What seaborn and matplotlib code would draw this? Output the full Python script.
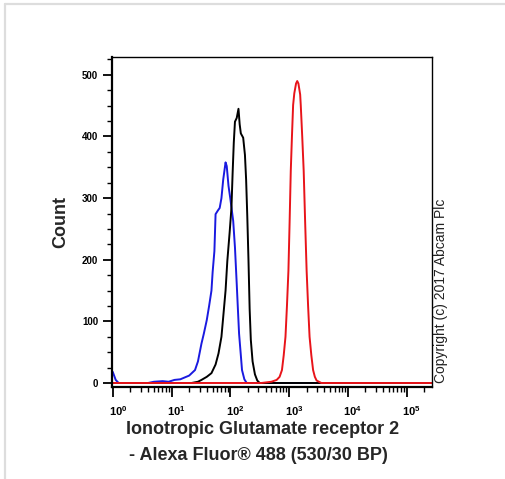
import numpy as np
import pandas as pd
import matplotlib
matplotlib.use("Agg")
import matplotlib.pyplot as plt
import matplotlib.ticker as ticker
import matplotlib.transforms as mtransforms
from matplotlib.lines import Line2D
import seaborn as sns

# histogram outlines: log10(intensity) and count
blue_log = [0.0, 0.05, 0.10, 0.60, 0.70, 0.85, 0.95, 1.05, 1.15, 1.30, 1.40, 1.45,
            1.51, 1.55, 1.60, 1.64, 1.68, 1.70, 1.73, 1.75, 1.79, 1.82, 1.85, 1.88,
            1.92, 1.94, 1.97, 2.00, 2.05, 2.08, 2.11, 2.13, 2.15, 2.18, 2.20, 2.24,
            2.28, 5.45]
blue_cnt = [18, 5, 0, 0, 2, 3, 2, 5, 6, 12, 21, 35,
            64, 80, 102, 125, 150, 180, 214, 274, 280, 284, 300, 330,
            358, 352, 320, 300, 263, 220, 161, 120, 80, 45, 21, 6,
            0, 0]

black_log = [0.0, 1.34, 1.45, 1.51, 1.60, 1.68, 1.75, 1.80, 1.85, 1.88, 1.92, 1.95,
             1.99, 2.02, 2.04, 2.06, 2.08, 2.11, 2.14, 2.16, 2.18, 2.22, 2.25, 2.27,
             2.29, 2.31, 2.33, 2.35, 2.38, 2.42, 2.46, 2.50, 5.45]
black_cnt = [0, 0, 2, 5, 10, 16, 30, 48, 75, 107, 150, 198,
             245, 284, 340, 390, 424, 430, 445, 420, 405, 398, 370, 330,
             270, 200, 120, 70, 35, 14, 4, 0, 0]

red_log = [0.0, 2.53, 2.70, 2.79, 2.84, 2.88, 2.91, 2.94, 2.965, 2.99, 3.01, 3.03,
           3.05, 3.07, 3.09, 3.12, 3.14, 3.16, 3.19, 3.20, 3.225, 3.25, 3.275, 3.30,
           3.325, 3.35, 3.38, 3.41, 3.44, 3.47, 3.55, 5.45]
red_cnt = [0, 0, 2, 5, 10, 21, 45, 75, 125, 182, 260, 344,
           400, 451, 470, 486, 490, 486, 468, 451, 400, 344, 260, 182,
           125, 75, 45, 21, 10, 4, 0, 0]

x_ticks = [1, 10, 100, 1000, 10000, 100000]
x_tick_labels = [r'$\mathbf{10^{%d}}$' % i for i in range(6)]
y_ticks = [0, 100, 200, 300, 400, 500]

frames = []
for name, lg, cnt in [('isotype', blue_log, blue_cnt),
                      ('unstained', black_log, black_cnt),
                      ('GluR2', red_log, red_cnt)]:
    frames.append(pd.DataFrame({'intensity': 10 ** np.array(lg), 'count': cnt, 'sample': name}))
df = pd.concat(frames, ignore_index=True)
palette = {'isotype': '#1a1ae0', 'unstained': '#000000', 'GluR2': '#e8141a'}

sns.set_theme(style="white")
plt.rcParams['font.family'] = ['Liberation Sans', 'DejaVu Sans']
plt.rcParams['mathtext.fontset'] = 'custom'
plt.rcParams['mathtext.rm'] = 'Liberation Sans'
plt.rcParams['mathtext.bf'] = 'Liberation Sans:bold'

fig = plt.figure(figsize=(5.06, 4.79), dpi=100)
ax = fig.add_axes([112 / 506, 92 / 479, 320 / 506, 330 / 479])

sns.lineplot(data=df, x='intensity', y='count', hue='sample', palette=palette,
             hue_order=['isotype', 'unstained', 'GluR2'], sort=False, estimator=None,
             linewidth=1.4, legend=False, ax=ax)

ax.set_xscale('log')
ax.set_xlim(10 ** -0.013, 10 ** 5.434)
ax.set_ylim(-6.5, 529)

ax.xaxis.set_major_locator(ticker.FixedLocator(x_ticks))
ax.xaxis.set_major_formatter(ticker.FixedFormatter(x_tick_labels))
ax.xaxis.set_minor_locator(ticker.LogLocator(base=10, subs=np.arange(2, 10), numticks=20))
ax.xaxis.set_minor_formatter(ticker.NullFormatter())
ax.yaxis.set_major_locator(ticker.FixedLocator(y_ticks))
ax.yaxis.set_minor_locator(ticker.MultipleLocator(25))

ax.tick_params(axis='both', which='major', direction='out', width=1.3,
               color='black', labelcolor='black', bottom=True, left=True)
ax.tick_params(axis='both', which='minor', direction='out', length=3.6, width=1.0,
               color='black', bottom=True, left=True)
ax.tick_params(axis='x', which='major', length=7.2, pad=5, labelsize=8)
ax.tick_params(axis='y', which='major', length=6.5, pad=3.5, labelsize=7)
for lab in ax.get_yticklabels():
    lab.set_fontweight('bold')
shift = mtransforms.ScaledTranslation(5 / 100, 0, fig.dpi_scale_trans)
for lab in ax.get_xticklabels():
    lab.set_transform(lab.get_transform() + shift)

for side in ['left', 'bottom']:
    ax.spines[side].set_linewidth(1.6)
for side in ['top', 'right']:
    ax.spines[side].set_linewidth(1.0)
for sp in ax.spines.values():
    sp.set_color('black')

ax.set_xlabel('')
ax.set_ylabel('Count', fontsize=13, fontweight='bold', labelpad=9)

fig.text(263 / 506, 1 - 429 / 479, 'Ionotropic Glutamate receptor 2',
         ha='center', va='center', fontsize=13, fontweight='bold')
fig.text(258 / 506, 1 - 456 / 479, '- Alexa Fluor\u00ae 488 (530/30 BP)',
         ha='center', va='center', fontsize=13, fontweight='bold')
fig.text(434 / 506, 1 - 383 / 479, 'Copyright (c) 2017 Abcam Plc', rotation=90,
         ha='left', va='bottom', fontsize=10, color='#222222')

# light grey frame on the top and left of the image
fig.add_artist(Line2D([5 / 506, 1], [1 - 4 / 479, 1 - 4 / 479], color='#dddddd', lw=1.6,
                      transform=fig.transFigure))
fig.add_artist(Line2D([5 / 506, 5 / 506], [1 - 4 / 479, 0], color='#dddddd', lw=1.6,
                      transform=fig.transFigure))

fig.savefig('out.png', dpi=100)
